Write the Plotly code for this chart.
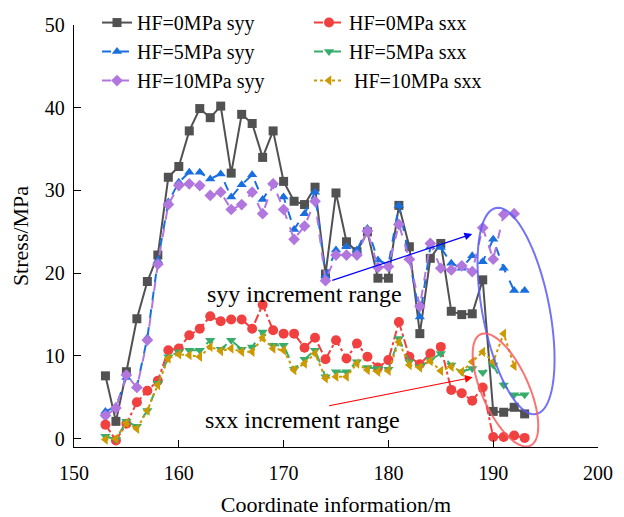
import math
import plotly.graph_objects as go

# ---------------- data ----------------
X_FULL = list(range(153, 194))      # 153 .. 193
X_SHORT = list(range(153, 193))     # 153 .. 192

syy_hf0 = [7.6, 2.1, 8.1, 14.5, 19.0, 22.2, 31.6, 32.9, 37.2, 39.9,
           38.8, 40.2, 32.1, 39.2, 38.1, 34.0, 37.2, 31.1, 28.7, 28.3,
           30.4, 19.9, 29.7, 23.8, 22.6, 25.0, 19.4, 19.4, 28.2, 23.2,
           12.7, 21.8, 23.6, 15.4, 15.0, 15.1, 19.2, 3.3, 3.2, 3.8, 3.0]
syy_hf5 = [3.3, 3.9, 7.4, 6.3, 12.2, 21.5, 28.6, 31.0, 32.2, 32.2,
           31.4, 32.0, 29.2, 30.7, 31.9, 28.9, 30.9, 29.2, 25.3, 27.2,
           29.8, 19.7, 22.8, 23.2, 22.8, 25.4, 21.6, 21.0, 28.2, 21.8,
           14.7, 23.2, 23.1, 21.2, 20.6, 22.1, 21.4, 24.1, 20.6, 17.9, 17.9]
syy_hf10 = [2.8, 3.7, 7.7, 6.2, 11.9, 21.1, 28.3, 30.6, 30.8, 30.6,
            29.4, 29.8, 27.7, 28.3, 29.8, 27.2, 30.8, 27.7, 24.1, 25.7,
            28.7, 19.1, 22.2, 22.2, 22.2, 25.1, 20.7, 20.8, 25.9, 21.7,
            16.0, 23.6, 20.6, 20.4, 20.9, 20.2, 25.5, 21.7, 27.1, 27.2]
sxx_hf0 = [1.7, -0.2, 1.8, 4.4, 5.8, 7.0, 10.7, 10.9, 12.5, 13.3,
           14.8, 14.2, 14.4, 14.4, 13.3, 16.2, 13.1, 12.7, 12.7, 11.0,
           12.2, 9.6, 11.9, 9.7, 11.5, 9.9, 8.6, 9.5, 14.1, 9.9,
           9.0, 10.3, 11.1, 5.9, 5.5, 4.6, 6.2, 0.2, 0.2, 0.4, 0.1]
sxx_hf5 = [0.3, -0.1, 2.1, 1.5, 3.4, 6.7, 9.9, 10.5, 10.7, 10.7,
           11.9, 10.8, 11.9, 10.8, 11.1, 12.9, 11.3, 11.3, 8.4, 9.6,
           10.7, 7.5, 8.1, 8.1, 9.3, 8.6, 8.5, 8.4, 12.1, 9.3,
           8.7, 9.5, 10.3, 8.9, 8.1, 8.5, 8.0, 8.9, 6.5, 5.3, 5.3]
sxx_hf10 = [-0.1, 0.0, 1.9, 1.2, 3.4, 6.5, 9.7, 10.2, 10.1, 9.9,
            11.1, 10.6, 10.9, 10.5, 10.5, 12.2, 10.9, 10.7, 8.3, 9.1,
            10.3, 7.3, 7.5, 7.5, 9.1, 8.3, 8.1, 8.2, 11.7, 8.9,
            8.6, 9.4, 8.2, 8.7, 8.1, 9.3, 10.5, 9.3, 12.7, 8.8]

X_TICKS = [150, 160, 170, 180, 190, 200]
Y_TICKS = [0, 10, 20, 30, 40, 50]

# ---------------- style ----------------
FONT = "Liberation Serif"
W, H = 624, 517
ML, MR, MT, MB = 74, 26, 25, 70
XR = [150, 200]
YR = [-1, 50]
PXX = (W - ML - MR) / (XR[1] - XR[0])
PXY = (H - MT - MB) / (YR[1] - YR[0])

series = [
    ("HF=0MPa syy", X_FULL, syy_hf0, "#515151", "square", 9, "solid", "legend"),
    ("HF=5MPa syy", X_FULL, syy_hf5, "#1A6FDF", "triangle-up", 9, "dash", "legend"),
    ("HF=10MPa syy", X_SHORT, syy_hf10, "#B177DE", "diamond", 9, "dash", "legend"),
    ("HF=0MPa sxx", X_FULL, sxx_hf0, "#F14040", "circle", 10, "dashdot", "legend2"),
    ("HF=5MPa sxx", X_FULL, sxx_hf5, "#37AD6B", "triangle-down", 9, "dash", "legend2"),
    ("\u00a0HF=10MPa sxx", X_SHORT, sxx_hf10, "#CC9900", "triangle-left", 9, "dot", "legend2"),
]

fig = go.Figure()
for name, xs, ys, col, sym, size, dash, leg in series:
    fig.add_trace(go.Scatter(
        x=xs, y=ys, name=name, mode="lines+markers",
        line=dict(color=col, width=2, dash=dash),
        marker=dict(symbol=sym, size=size, color=col, line=dict(width=0)),
        legend=leg,
    ))


def ellipse_path(cx, cy, a_px, b_px, tilt_deg, n=90):
    th = math.radians(tilt_deg)
    ux, uy = math.sin(th), math.cos(th)      # major axis (screen px, y down)
    vx, vy = math.cos(th), -math.sin(th)     # minor axis
    pts = []
    for i in range(n + 1):
        t = 2 * math.pi * i / n
        px = a_px * math.cos(t) * ux + b_px * math.sin(t) * vx
        py = a_px * math.cos(t) * uy + b_px * math.sin(t) * vy
        pts.append((cx + px / PXX, cy - py / PXY))
    return "M" + " L".join(f"{x:.4f},{y:.4f}" for x, y in pts) + " Z"


# ellipse parameters: centre (data), semi-axes (px), tilt (deg)
BLUE_ELL = (192.18, 15.43, 105, 33.5, 11)
RED_ELL = (191.17, 5.89, 61, 23.5, 24)

fig.add_shape(type="path", path=ellipse_path(*BLUE_ELL), xref="x", yref="y",
              line=dict(color="rgba(90,90,245,0.85)", width=2))
fig.add_shape(type="path", path=ellipse_path(*RED_ELL), xref="x", yref="y",
              line=dict(color="rgba(250,90,90,0.85)", width=2))

# arrows
fig.add_annotation(x=188.0, y=24.75, ax=174.5, ay=19.07, xref="x", yref="y",
                   axref="x", ayref="y", text="", showarrow=True,
                   arrowhead=2, arrowsize=1.3, arrowwidth=1.2, arrowcolor="#0000FF")
fig.add_annotation(x=188.04, y=7.42, ax=174.2, ay=3.95, xref="x", yref="y",
                   axref="x", ayref="y", text="", showarrow=True,
                   arrowhead=2, arrowsize=1.3, arrowwidth=1.2, arrowcolor="#FF0000")

fig.add_annotation(x=172.0, y=17.5, xref="x", yref="y", text="syy increment range",
                   showarrow=False, font=dict(family=FONT, size=24, color="black"))
fig.add_annotation(x=171.85, y=2.26, xref="x", yref="y", text="sxx increment range",
                   showarrow=False, font=dict(family=FONT, size=24, color="black"))

axis_common = dict(
    showline=True, linecolor="black", linewidth=1.3,
    ticks="inside", ticklen=7, tickwidth=1.3, tickcolor="black",
    showgrid=False, zeroline=False, mirror=False,
    tickfont=dict(family=FONT, size=20, color="black"),
)

fig.update_layout(
    width=W, height=H,
    margin=dict(l=ML, r=MR, t=MT, b=MB, autoexpand=False),
    paper_bgcolor="white", plot_bgcolor="white",
    font=dict(family=FONT, size=20, color="black"),
    xaxis=dict(range=XR, tickvals=X_TICKS, ticklabelstandoff=8,
               title=dict(text="Coordinate information/m", standoff=16,
                          font=dict(family=FONT, size=22, color="black")),
               **axis_common),
    yaxis=dict(range=YR, tickvals=Y_TICKS, ticklabelstandoff=4,
               title=dict(text="Stress/MPa", standoff=10,
                          font=dict(family=FONT, size=22, color="black")),
               **axis_common),
    legend=dict(x=(97 - ML) / (W - ML - MR), y=1.052, xanchor="left", yanchor="top",
                bgcolor="rgba(0,0,0,0)", font=dict(family=FONT, size=20, color="black"),
                tracegroupgap=0),
    legend2=dict(x=(309 - ML) / (W - ML - MR), y=1.052, xanchor="left", yanchor="top",
                 bgcolor="rgba(0,0,0,0)", font=dict(family=FONT, size=20, color="black"),
                 tracegroupgap=0),
    showlegend=True,
)

fig.write_html("out.html",
               config={"displayModeBar": False},
               post_script="document.body.style.margin='0px';document.body.style.padding='0px';")
